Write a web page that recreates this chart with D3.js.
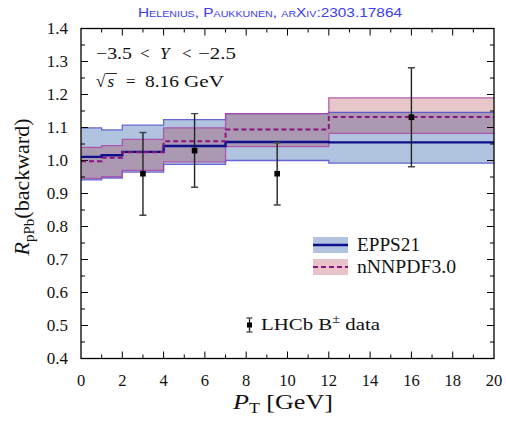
<!DOCTYPE html>
<html><head><meta charset="utf-8">
<script src="https://cdn.jsdelivr.net/npm/d3@7"></script>
<style>body{margin:0;background:#fff}svg{display:block}text{font-family:"Liberation Serif","DejaVu Serif",serif}</style>
</head><body>
<script>
// Bin edges in pT [GeV]
const binEdges = [0, 1, 2, 4, 7, 12, 20];
// EPPS21 per bin
const eppsCentral = [1.011, 1.016, 1.026, 1.044, 1.056, 1.055];
const eppsUpper   = [1.099, 1.093, 1.107, 1.124, 1.142, 1.146];
const eppsLower   = [0.941, 0.947, 0.965, 0.988, 1.000, 0.992];
// nNNPDF3.0 per bin
const nnpdfCentral = [0.998, 1.008, 1.025, 1.058, 1.094, 1.132];
const nnpdfUpper   = [1.040, 1.045, 1.064, 1.099, 1.142, 1.190];
const nnpdfLower   = [0.946, 0.951, 0.970, 0.996, 1.042, 1.082];
// LHCb B± data
const dataPt  = [3.0, 5.5, 9.5, 16.0];
const dataR   = [0.960, 1.030, 0.960, 1.131];
const dataHi  = [1.085, 1.142, 1.054, 1.281];
const dataLo  = [0.834, 0.919, 0.865, 0.981];
// ticks
const xTicks = [0,2,4,6,8,10,12,14,16,18,20];
const yTicks = [0.4,0.5,0.6,0.7,0.8,0.9,1.0,1.1,1.2,1.3,1.4];

const W = 506, H = 423;
const svg = d3.select("body").append("svg").attr("width", W).attr("height", H);
const x = d3.scaleLinear().domain([0, 20]).range([81, 494]);
const y = d3.scaleLinear().domain([0.4, 1.4]).range([358.5, 28.5]);
const SG = "spacingAndGlyphs";

function stepPts(vals) {
  const p = vals.map((v, i) => [binEdges[i], v]);
  p.push([binEdges[binEdges.length - 1], vals[vals.length - 1]]);
  return p;
}
function bandData(lo, hi) {
  const h = stepPts(hi);
  return stepPts(lo).map((d, i) => ({x: d[0], lo: d[1], hi: h[i][1]}));
}
const area = d3.area().curve(d3.curveStepAfter).x(d => x(d.x)).y0(d => y(d.lo)).y1(d => y(d.hi));
const line = d3.line().curve(d3.curveStepAfter).x(d => x(d[0])).y(d => y(d[1]));

const plot = svg.append("g");
plot.append("defs").append("clipPath").attr("id", "clip")
  .append("rect").attr("x", x(0)).attr("y", y(1.4)).attr("width", x(20) - x(0)).attr("height", y(0.4) - y(1.4));
const g = plot.append("g").attr("clip-path", "url(#clip)");

// EPPS21 band
g.append("path").datum(bandData(eppsLower, eppsUpper)).attr("d", area).attr("fill", "rgb(176,196,224)");
// nNNPDF band (translucent)
g.append("path").datum(bandData(nnpdfLower, nnpdfUpper)).attr("d", area)
  .attr("fill", "rgb(150,0,10)").attr("fill-opacity", 0.22);
// EPPS borders
[eppsUpper, eppsLower].forEach(v => g.append("path").datum(stepPts(v)).attr("d", line)
  .attr("fill", "none").attr("stroke", "rgb(80,80,205)").attr("stroke-width", 1.3).attr("stroke-opacity", 0.85));
// nNNPDF borders
[nnpdfUpper, nnpdfLower].forEach(v => g.append("path").datum(stepPts(v)).attr("d", line)
  .attr("fill", "none").attr("stroke", "rgb(175,70,170)").attr("stroke-width", 1.3).attr("stroke-opacity", 0.85));
// central lines
g.append("path").datum(stepPts(eppsCentral)).attr("d", line)
  .attr("fill", "none").attr("stroke", "rgb(15,15,140)").attr("stroke-width", 2.4);
g.append("path").datum(stepPts(nnpdfCentral)).attr("d", line)
  .attr("fill", "none").attr("stroke", "rgb(140,20,130)").attr("stroke-width", 2).attr("stroke-dasharray", "5,3");

// data points
dataPt.forEach((pt, i) => {
  const cx = x(pt);
  g.append("line").attr("x1", cx).attr("x2", cx).attr("y1", y(dataHi[i])).attr("y2", y(dataLo[i]))
    .attr("stroke", "#222").attr("stroke-width", 1.4);
  [dataHi[i], dataLo[i]].forEach(v => g.append("line").attr("x1", cx - 3.5).attr("x2", cx + 3.5)
    .attr("y1", y(v)).attr("y2", y(v)).attr("stroke", "#444").attr("stroke-width", 1.4));
  g.append("rect").attr("x", cx - 2.8).attr("y", y(dataR[i]) - 2.8).attr("width", 5.6).attr("height", 5.6).attr("fill", "#000");
});

// frame and ticks
const axG = svg.append("g").attr("stroke", "#000");
axG.append("rect").attr("x", x(0)).attr("y", y(1.4)).attr("width", x(20) - x(0)).attr("height", y(0.4) - y(1.4))
  .attr("fill", "none").attr("stroke-width", 1.3);
d3.range(1, 20, 1).forEach(v => {
  const len = v % 2 === 0 ? 7 : 4;
  axG.append("line").attr("x1", x(v)).attr("x2", x(v)).attr("y1", y(0.4)).attr("y2", y(0.4) - len).attr("stroke-width", 1);
  axG.append("line").attr("x1", x(v)).attr("x2", x(v)).attr("y1", y(1.4)).attr("y2", y(1.4) + len).attr("stroke-width", 1);
});
d3.range(1, 20, 1).forEach(k => {
  const v = 0.4 + k * 0.05;
  const len = k % 2 === 0 ? 7 : 4;
  axG.append("line").attr("x1", x(0)).attr("x2", x(0) + len).attr("y1", y(v)).attr("y2", y(v)).attr("stroke-width", 1);
  axG.append("line").attr("x1", x(20)).attr("x2", x(20) - len).attr("y1", y(v)).attr("y2", y(v)).attr("stroke-width", 1);
});
// tick labels
svg.append("g").selectAll("text").data(xTicks).join("text")
  .attr("x", d => x(d)).attr("y", 386).attr("text-anchor", "middle").attr("font-size", 16.5).attr("fill", "#111")
  .text(d => d);
svg.append("g").selectAll("text").data(yTicks).join("text")
  .attr("x", 68).attr("y", d => y(d) + 5.5).attr("text-anchor", "end").attr("font-size", 17).attr("fill", "#111")
  .text(d => d3.format(".1f")(d));

// axis titles
const xt = svg.append("text").attr("x", 233).attr("y", 409).attr("font-size", 20.5).attr("fill", "#111")
  .attr("textLength", 100).attr("lengthAdjust", SG);
xt.append("tspan").attr("font-style", "italic").text("P");
xt.append("tspan").attr("font-size", 14).attr("dy", 4).text("T");
xt.append("tspan").attr("dy", -4).text(" [GeV]");

const yt = svg.append("text").attr("transform", "translate(29,187) rotate(-90)").attr("text-anchor", "middle")
  .attr("font-size", 22).attr("fill", "#111");
yt.append("tspan").attr("font-style", "italic").text("R");
yt.append("tspan").attr("font-size", 15).attr("dy", 5).text("pPb");
yt.append("tspan").attr("dy", -5).text("(backward)");

// title
svg.append("text").attr("x", 138).attr("y", 17)
  .attr("font-size", 13).attr("fill", "rgb(60,60,240)").attr("font-variant", "small-caps")
  .attr("textLength", 264).attr("lengthAdjust", SG)
  .style("font-family", "'Liberation Sans', Arial, sans-serif")
  .text("Helenius, Paukkunen, arXiv:2303.17864");

// annotations
const ann = svg.append("g").attr("font-size", 17).attr("fill", "#111");
ann.append("text").attr("x", 96).attr("y", 59).attr("textLength", 36).attr("lengthAdjust", SG).text("−3.5");
ann.append("text").attr("x", 140).attr("y", 59).text("<");
ann.append("text").attr("x", 160).attr("y", 59).attr("font-style", "italic").text("Y");
ann.append("text").attr("x", 182).attr("y", 59).text("<");
ann.append("text").attr("x", 198).attr("y", 59).attr("textLength", 38).attr("lengthAdjust", SG).text("−2.5");
ann.append("text").attr("x", 96).attr("y", 87).text("√");
ann.append("text").attr("x", 107.5).attr("y", 87).attr("font-style", "italic").text("s");
ann.append("text").attr("x", 126).attr("y", 87).text("=");
ann.append("text").attr("x", 145).attr("y", 87).attr("textLength", 34).attr("lengthAdjust", SG).text("8.16");
ann.append("text").attr("x", 184).attr("y", 87).attr("textLength", 40).attr("lengthAdjust", SG).text("GeV");
svg.append("line").attr("x1", 105.5).attr("x2", 117).attr("y1", 73.5).attr("y2", 73.5).attr("stroke", "#111").attr("stroke-width", 0.9);

// legend
const leg = svg.append("g");
leg.append("rect").attr("x", 313).attr("y", 237).attr("width", 35).attr("height", 16).attr("fill", "rgb(176,196,224)");
leg.append("line").attr("x1", 313).attr("x2", 348).attr("y1", 245).attr("y2", 245).attr("stroke", "rgb(15,15,140)").attr("stroke-width", 2.4);
leg.append("text").attr("x", 357).attr("y", 251).attr("font-size", 18.5).attr("fill", "#111")
  .attr("textLength", 63).attr("lengthAdjust", SG).text("EPPS21");
leg.append("rect").attr("x", 313).attr("y", 259).attr("width", 35).attr("height", 16).attr("fill", "rgb(232,196,200)");
leg.append("line").attr("x1", 313).attr("x2", 348).attr("y1", 267).attr("y2", 267).attr("stroke", "rgb(140,20,130)").attr("stroke-width", 2).attr("stroke-dasharray", "5,3");
leg.append("text").attr("x", 357).attr("y", 273).attr("font-size", 18.5).attr("fill", "#111")
  .attr("textLength", 99).attr("lengthAdjust", SG).text("nNNPDF3.0");
// data legend
leg.append("line").attr("x1", 249.5).attr("x2", 249.5).attr("y1", 318).attr("y2", 332).attr("stroke", "#222").attr("stroke-width", 1.3);
[318, 332].forEach(v => leg.append("line").attr("x1", 246.5).attr("x2", 252.5).attr("y1", v).attr("y2", v).attr("stroke", "#444").attr("stroke-width", 1.3));
leg.append("rect").attr("x", 247).attr("y", 322.5).attr("width", 5).attr("height", 5).attr("fill", "#000");
const lt = leg.append("text").attr("x", 261).attr("y", 330).attr("font-size", 17.5).attr("fill", "#111")
  .attr("textLength", 119).attr("lengthAdjust", SG);
lt.append("tspan").text("LHCb B");
lt.append("tspan").attr("font-size", 12).attr("dy", -7).text("±");
lt.append("tspan").attr("dy", 7).text(" data");
</script>
</body></html>
